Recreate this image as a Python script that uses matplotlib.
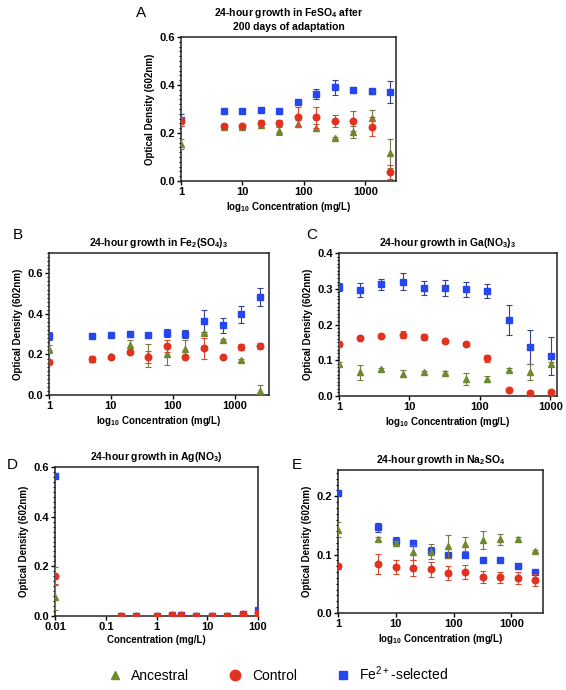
import numpy as np
import matplotlib
matplotlib.use("Agg")
import matplotlib.pyplot as plt
from matplotlib.lines import Line2D
from matplotlib.ticker import MultipleLocator, FixedLocator, FuncFormatter, NullLocator

plt.rcParams["font.family"] = ["Liberation Sans", "DejaVu Sans"]
plt.rcParams["mathtext.fontset"] = "custom"
plt.rcParams["mathtext.rm"] = "Liberation Sans"
plt.rcParams["mathtext.bf"] = "Liberation Sans:bold"

# =====================================================
# DATA
# =====================================================

x_a = [1, 5, 10, 20, 40, 80, 160, 320, 640, 1280, 2560]
anc_a = [0.155, 0.225, 0.226, 0.232, 0.210, 0.238, 0.222, 0.178, 0.205, 0.262, 0.115]
anc_a_err = [0.02, 0.005, 0.005, 0.01, 0.02, 0.015, 0.015, 0.004, 0.025, 0.035, 0.06]
ctl_a = [0.248, 0.228, 0.228, 0.240, 0.240, 0.268, 0.265, 0.250, 0.250, 0.226, 0.038]
ctl_a_err = [0.02, 0.01, 0.01, 0.015, 0.015, 0.04, 0.045, 0.025, 0.04, 0.04, 0.03]
fe_a = [0.255, 0.290, 0.292, 0.294, 0.292, 0.330, 0.362, 0.390, 0.381, 0.373, 0.372]
fe_a_err = [0.025, 0.005, 0.005, 0.005, 0.005, 0.008, 0.02, 0.03, 0.01, 0.01, 0.045]

x_b = [1, 5, 10, 20, 40, 80, 160, 320, 640, 1280, 2560]
anc_b = [0.228, 0.180, 0.190, 0.245, 0.195, 0.200, 0.228, 0.305, 0.270, 0.175, 0.022]
anc_b_err = [0.02, 0.005, 0.005, 0.025, 0.055, 0.05, 0.045, 0.005, 0.005, 0.005, 0.025]
ctl_b = [0.165, 0.180, 0.188, 0.210, 0.188, 0.240, 0.187, 0.230, 0.187, 0.235, 0.243]
ctl_b_err = [0.005, 0.01, 0.005, 0.01, 0.03, 0.03, 0.005, 0.05, 0.005, 0.015, 0.015]
fe_b = [0.290, 0.290, 0.295, 0.300, 0.295, 0.305, 0.302, 0.365, 0.343, 0.397, 0.483]
fe_b_err = [0.02, 0.01, 0.01, 0.015, 0.01, 0.02, 0.02, 0.055, 0.035, 0.04, 0.045]

x_c = [1, 2, 4, 8, 16, 32, 64, 128, 256, 512, 1024]
anc_c = [0.090, 0.066, 0.075, 0.062, 0.066, 0.065, 0.047, 0.047, 0.073, 0.068, 0.090]
anc_c_err = [0.005, 0.022, 0.004, 0.01, 0.004, 0.004, 0.017, 0.008, 0.004, 0.022, 0.005]
ctl_c = [0.146, 0.163, 0.168, 0.172, 0.166, 0.153, 0.145, 0.105, 0.018, 0.008, 0.010]
ctl_c_err = [0.004, 0.004, 0.004, 0.01, 0.008, 0.005, 0.004, 0.01, 0.003, 0.003, 0.003]
fe_c = [0.305, 0.296, 0.312, 0.320, 0.303, 0.303, 0.298, 0.293, 0.212, 0.137, 0.112]
fe_c_err = [0.01, 0.02, 0.015, 0.023, 0.02, 0.022, 0.02, 0.02, 0.042, 0.047, 0.052]

x_d = [0.01, 0.2, 0.4, 1, 2, 3, 6, 12.5, 25, 50, 100]
anc_d = [0.075, 0.002, 0.002, 0.002, 0.004, 0.004, 0.002, 0.002, 0.002, 0.006, 0.010]
anc_d_err = [0.05, 0.002, 0.002, 0.002, 0.002, 0.002, 0.002, 0.002, 0.002, 0.002, 0.003]
ctl_d = [0.163, 0.002, 0.002, 0.002, 0.004, 0.004, 0.002, 0.002, 0.002, 0.007, 0.012]
ctl_d_err = [0.035, 0.002, 0.002, 0.002, 0.002, 0.002, 0.002, 0.002, 0.002, 0.002, 0.003]
fe_d = [0.565, 0.002, 0.002, 0.002, 0.004, 0.004, 0.002, 0.002, 0.002, 0.007, 0.025]
fe_d_err = [0.01, 0.002, 0.002, 0.002, 0.002, 0.002, 0.002, 0.002, 0.002, 0.002, 0.003]

x_e = [1, 5, 10, 20, 40, 80, 160, 320, 640, 1280, 2560]
anc_e = [0.143, 0.127, 0.120, 0.104, 0.105, 0.114, 0.118, 0.125, 0.126, 0.126, 0.106]
anc_e_err = [0.013, 0.004, 0.004, 0.013, 0.013, 0.02, 0.012, 0.015, 0.01, 0.005, 0.002]
ctl_e = [0.080, 0.084, 0.078, 0.077, 0.075, 0.068, 0.070, 0.062, 0.061, 0.060, 0.056]
ctl_e_err = [0.004, 0.017, 0.012, 0.013, 0.013, 0.012, 0.012, 0.01, 0.01, 0.01, 0.01]
fe_e = [0.205, 0.147, 0.123, 0.120, 0.107, 0.099, 0.099, 0.091, 0.090, 0.081, 0.071]
fe_e_err = [0.003, 0.008, 0.008, 0.005, 0.006, 0.003, 0.003, 0.003, 0.003, 0.003, 0.003]

# =====================================================
# STYLE
# =====================================================

green = "#6f8a2c"
green_err = "#7d7648"
red = "#e2321f"
red_err = "#d9482e"
blue = "#2447ee"
blue_err = "#3b3f8f"

log_label = r"log$_\mathbf{10}$ Concentration (mg/L)"
y_label = "Optical Density (602nm)"


def draw_panel(ax, x, anc, anc_err, ctl, ctl_err, fe, fe_err,
               xlim, ylim, ystep, yminor, title, xlabel, xticks):
    ax.errorbar(x, fe, yerr=fe_err, fmt="s", color=blue, ecolor=blue_err,
                ms=5, elinewidth=0.8, capsize=2.5, capthick=0.8, zorder=3)
    ax.errorbar(x, anc, yerr=anc_err, fmt="^", color=green, ecolor=green_err,
                ms=4.5, elinewidth=0.8, capsize=2.5, capthick=0.8, zorder=4)
    ax.errorbar(x, ctl, yerr=ctl_err, fmt="o", color=red, ecolor=red_err,
                ms=4.7, elinewidth=0.8, capsize=2.5, capthick=0.8, zorder=5)
    ax.set_xscale("log")
    ax.set_xlim(xlim)
    ax.set_ylim(ylim)
    ax.xaxis.set_major_locator(FixedLocator(xticks))
    ax.xaxis.set_minor_locator(NullLocator())
    ax.xaxis.set_major_formatter(FuncFormatter(lambda v, p: "%g" % v))
    ax.yaxis.set_major_locator(MultipleLocator(ystep))
    ax.yaxis.set_minor_locator(MultipleLocator(yminor))
    ax.yaxis.set_major_formatter(FuncFormatter(lambda v, p: "%.1f" % v))
    ax.tick_params(axis="both", which="major", labelsize=8, length=3,
                   width=1, direction="out", pad=1.5)
    ax.tick_params(axis="y", which="minor", length=1.5, width=0.8)
    for lab in ax.get_xticklabels() + ax.get_yticklabels():
        lab.set_fontweight("bold")
    for sp in ax.spines.values():
        sp.set_linewidth(1.1)
        sp.set_color("#222222")
    ax.set_title(title, fontsize=7.5, fontweight="bold", pad=5)
    ax.set_xlabel(xlabel, fontsize=7, fontweight="bold", labelpad=2)
    ax.set_ylabel(y_label, fontsize=7, fontweight="bold", labelpad=3)


fig = plt.figure(figsize=(5.66, 6.90), dpi=100)

ax_a = fig.add_axes([0.320, 0.7377, 0.380, 0.2087])
ax_b = fig.add_axes([0.0866, 0.4275, 0.3887, 0.2058])
ax_c = fig.add_axes([0.599, 0.4261, 0.3852, 0.2072])
ax_d = fig.add_axes([0.0972, 0.1072, 0.3587, 0.2160])
ax_e = fig.add_axes([0.597, 0.1116, 0.362, 0.2072])

draw_panel(ax_a, x_a, anc_a, anc_a_err, ctl_a, ctl_a_err, fe_a, fe_a_err,
           (1, 3200), (0, 0.6), 0.2, 0.02,
           "24-hour growth in FeSO$_\\mathbf{4}$ after\n200 days of adaptation",
           log_label, [1, 10, 100, 1000])
draw_panel(ax_b, x_b, anc_b, anc_b_err, ctl_b, ctl_b_err, fe_b, fe_b_err,
           (1, 3600), (0, 0.7), 0.2, 0.02,
           "24-hour growth in Fe$_\\mathbf{2}$(SO$_\\mathbf{4}$)$_\\mathbf{3}$",
           log_label, [1, 10, 100, 1000])
draw_panel(ax_c, x_c, anc_c, anc_c_err, ctl_c, ctl_c_err, fe_c, fe_c_err,
           (1, 1250), (0, 0.4), 0.1, 0.01,
           "24-hour growth in Ga(NO$_\\mathbf{3}$)$_\\mathbf{3}$",
           log_label, [1, 10, 100, 1000])
draw_panel(ax_d, x_d, anc_d, anc_d_err, ctl_d, ctl_d_err, fe_d, fe_d_err,
           (0.01, 100), (0, 0.6), 0.2, 0.02,
           "24-hour growth in Ag(NO$_\\mathbf{3}$)",
           "Concentration (mg/L)", [0.01, 0.1, 1, 10, 100])
draw_panel(ax_e, x_e, anc_e, anc_e_err, ctl_e, ctl_e_err, fe_e, fe_e_err,
           (1, 3500), (0, 0.245), 0.1, 0.01,
           "24-hour growth in Na$_\\mathbf{2}$SO$_\\mathbf{4}$",
           log_label, [1, 10, 100, 1000])

# panel letters
for letter, px, py in [("A", 141, 13), ("B", 18, 235), ("C", 312, 235),
                       ("D", 12, 465), ("E", 297, 465)]:
    fig.text(px / 566, 1 - py / 690, letter, fontsize=11,
             ha="center", va="center")

# legend
handles = [
    Line2D([], [], ls="none", marker="^", color=green, ms=6),
    Line2D([], [], ls="none", marker="o", color=red, ms=7.5),
    Line2D([], [], ls="none", marker="s", color=blue, ms=6),
]
fig.legend(handles, ["Ancestral", "Control", "Fe$^{2+}$-selected"],
           loc="center", bbox_to_anchor=(0.49, 16 / 690), ncol=3,
           frameon=False, fontsize=10, handletextpad=0.6,
           columnspacing=2.7, handlelength=1.2)

fig.savefig("out.png", dpi=100)
